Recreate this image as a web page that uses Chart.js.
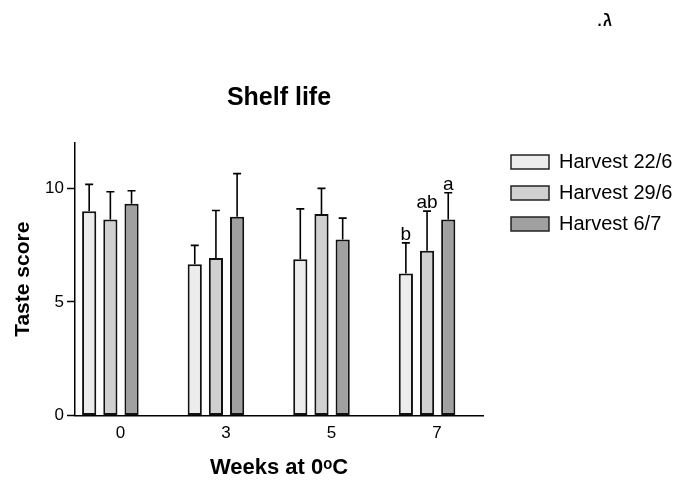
<!DOCTYPE html>
<html>
<head>
<meta charset="utf-8">
<script src="https://cdn.jsdelivr.net/npm/chart.js@4.4.0/dist/chart.umd.min.js"></script>
<style>
  body { margin: 0; background: #fff; }
  #wrap { position: relative; width: 681px; height: 483px; }
  #mark { position: absolute; right: 69px; top: 8px; font: 22px "Liberation Sans", Arial, sans-serif; line-height: 22px; color: #000; }
</style>
</head>
<body>
<div id="wrap">
  <canvas id="chart" width="681" height="483"></canvas>
  <div id="mark" dir="rtl">ג.</div>
</div>
<script>
// weeks at 0 C (categories)
const weeks = ['0', '3', '5', '7'];
const seriesNames = ['Harvest 22/6', 'Harvest 29/6', 'Harvest 6/7'];

// mean taste score per harvest
const harvest226 = [9.0, 6.66, 6.88, 6.25];
const harvest296 = [8.63, 6.94, 8.87, 7.26];
const harvest67 = [9.32, 8.75, 7.75, 8.63];

// upper error (sd)
const sd226 = [1.18, 0.83, 2.22, 1.35];
const sd296 = [1.22, 2.09, 1.13, 1.74];
const sd67 = [0.58, 1.90, 0.94, 1.18];

// significance letters
const letters226 = ['', '', '', 'b'];
const letters296 = ['', '', '', 'ab'];
const letters67 = ['', '', '', 'a'];

const yTicks = [0, 5, 10];

Chart.defaults.font.family = '"Liberation Sans", Arial, sans-serif';
Chart.defaults.color = '#000';

const toPoints = arr => arr.map((v, i) => ({ x: i, y: v }));

const barStyle = {
    borderColor: '#111',
    borderWidth: 2,
    borderSkipped: false,
    categoryPercentage: 0.602,
    barPercentage: 0.67,
};

// error bars + letters on top of the bars
const errorBars = {
    id: 'errorBars',
    afterDatasetsDraw(chart) {
        const ctx = chart.ctx;
        const yScale = chart.scales.y;
        ctx.save();
        ctx.strokeStyle = '#000';
        ctx.fillStyle = '#000';
        ctx.lineWidth = 1.6;
        ctx.font = '19px "Liberation Sans", Arial, sans-serif';
        ctx.textAlign = 'center';
        ctx.textBaseline = 'alphabetic';
        chart.data.datasets.forEach((ds, i) => {
            chart.getDatasetMeta(i).data.forEach((bar, j) => {
                const top = yScale.getPixelForValue(ds.data[j].y + ds.sd[j]);
                ctx.beginPath();
                ctx.moveTo(bar.x, bar.y);
                ctx.lineTo(bar.x, top);
                ctx.moveTo(bar.x - 4, top);
                ctx.lineTo(bar.x + 4, top);
                ctx.stroke();
                if (ds.letters[j]) ctx.fillText(ds.letters[j], bar.x, top - 3);
            });
        });
        ctx.restore();
    }
};

// move legend a bit away from the plot
const legendShift = {
    id: 'legendShift',
    afterLayout(chart) {
        const lg = chart.legend;
        lg.left = 500;
        lg.right = chart.width;
        lg.width = lg.right - lg.left;
        lg.top -= 2; lg.bottom -= 2;
    }
};

const ctx = document.getElementById('chart').getContext('2d');

new Chart(ctx, {
    type: 'bar',
    data: {
        datasets: [
            { label: seriesNames[0], data: toPoints(harvest226), backgroundColor: '#ececec', sd: sd226, letters: letters226, ...barStyle },
            { label: seriesNames[1], data: toPoints(harvest296), backgroundColor: '#d0d0d0', sd: sd296, letters: letters296, ...barStyle },
            { label: seriesNames[2], data: toPoints(harvest67), backgroundColor: '#a0a0a0', sd: sd67, letters: letters67, ...barStyle },
        ],
    },
    options: {
        responsive: false,
        animation: false,
        layout: { padding: { left: 0, right: 37, top: 0, bottom: 0 } },
        scales: {
            x: {
                type: 'linear',
                min: -0.335,
                max: 3.53,
                offset: false,
                afterBuildTicks: s => { s.ticks = weeks.map((w, i) => ({ value: i })); },
                afterFit: s => { s.height = 67.5; },
                grid: { display: false, drawTicks: false },
                border: { display: true, color: '#000', width: 1.5 },
                ticks: {
                    callback: v => weeks[v],
                    labelOffset: 10,
                    padding: 8,
                    maxRotation: 0,
                    autoSkip: false,
                    font: { size: 17 },
                },
                title: {
                    display: true,
                    text: 'Weeks at 0ᵒC',
                    font: { size: 22, weight: 'bold' },
                    padding: { top: 0, bottom: 1.5 },
                },
            },
            y: {
                min: 0,
                max: 12,
                afterBuildTicks: s => { s.ticks = yTicks.map(v => ({ value: v })); },
                afterFit: s => { s.width = 75; },
                grid: { drawOnChartArea: false, drawTicks: true, tickLength: 8, tickColor: '#000', tickWidth: 1.5 },
                border: { color: '#000', width: 1.5 },
                ticks: { padding: 3, font: { size: 17 } },
                title: {
                    display: true,
                    text: 'Taste score',
                    font: { size: 21, weight: 'bold' },
                    padding: { top: 11, bottom: 0 },
                },
            },
        },
        plugins: {
            title: {
                display: true,
                text: 'Shelf life',
                fullSize: false,
                font: { size: 25, weight: 'bold' },
                padding: { top: 83, bottom: 30 },
            },
            legend: {
                position: 'right',
                align: 'start',
                fullSize: false,
                labels: {
                    boxWidth: 38,
                    boxHeight: 14,
                    padding: 11,
                    font: { size: 20 },
                    generateLabels: chart => Chart.defaults.plugins.legend.labels.generateLabels(chart)
                        .map(l => ({ ...l, lineWidth: 1.5, strokeStyle: '#222' })),
                },
            },
            tooltip: { enabled: false },
        },
    },
    plugins: [errorBars, legendShift],
});
</script>
</body>
</html>
